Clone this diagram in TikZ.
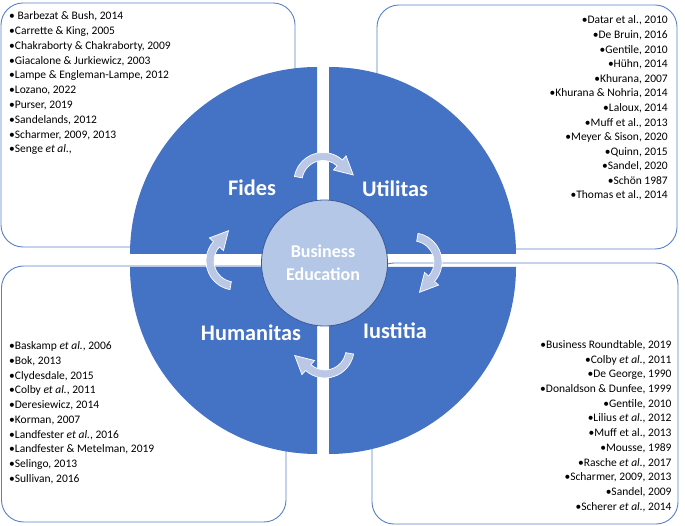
\documentclass[tikz,border=0pt]{standalone}
\usepackage{fontspec}
\setmainfont{Carlito}
\definecolor{qblue}{RGB}{68,114,196}
\definecolor{bline}{RGB}{88,128,200}
\definecolor{cfill}{RGB}{180,199,231}
\definecolor{cedge}{RGB}{60,90,150}
\definecolor{afill}{RGB}{186,200,230}
\begin{document}
\begin{tikzpicture}[x=1pt,y=1pt,
  refbox/.style={draw=bline, line width=0.9pt, fill=white, rounded corners=22pt},
  reftxt/.style={inner sep=0pt, font=\fontsize{11.5}{13}\selectfont, text=black},
  quad/.style={fill=qblue},
  lab/.style={text=white, font=\fontsize{22.3}{26}\selectfont\bfseries, inner sep=0pt, anchor=base},
  corelab/.style={text=white, font=\fontsize{18}{22}\selectfont\bfseries, inner sep=0pt, anchor=base},
  carrow/.pic={\path[fill=afill, draw=white, line width=0.7pt]
    (80:29) arc[start angle=80,end angle=-42,radius=29pt] -- (-42:34.5) -- (6.5,-30.3)
    -- (-42:15.5) -- (-42:21) arc[start angle=-42,end angle=80,radius=21pt] -- cycle;}
]
\useasboundingbox (0,0) rectangle (685,525);
% reference boxes
\draw[refbox] (1,278) rectangle (295,522);
\draw[refbox] (377,276) rectangle (677,520);
\draw[refbox] (1.5,3) rectangle (286,259);
\draw[refbox] (372,1) rectangle (678,262);
% texts
\foreach[count=\i from 0] \txt in {{• Barbezat \& Bush, 2014},{•Carrette \& King, 2005},{•Chakraborty \& Chakraborty, 2009},{•Giacalone \& Jurkiewicz, 2003},{•Lampe \& Engleman-Lampe, 2012},{•Lozano, 2022},{•Purser, 2019},{•Sandelands, 2012},{•Scharmer, 2009, 2013},{•Senge \textit{et al.},}}
  \node[reftxt, anchor=base west] (tl\i) at (9,{505.3-14.8*\i}) {\txt};
\foreach[count=\i from 0] \txt in {{•Datar et al., 2010},{•De Bruin, 2016},{•Gentile, 2010},{•Hühn, 2014},{•Khurana, 2007},{•Khurana \& Nohria, 2014},{•Laloux, 2014},{•Muff et al., 2013},{•Meyer \& Sison, 2020},{•Quinn, 2015},{•Sandel, 2020},{•Schön 1987},{•Thomas et al., 2014}}
  \node[reftxt, anchor=base east] (tr\i) at (668,{501-14.58*\i}) {\txt};
\foreach[count=\i from 0] \txt in {{•Baskamp \textit{et al.}, 2006},{•Bok, 2013},{•Clydesdale, 2015},{•Colby \textit{et al.}, 2011},{•Deresiewicz, 2014},{•Korman, 2007},{•Landfester \textit{et al.}, 2016},{•Landfester \& Metelman, 2019},{•Selingo, 2013},{•Sullivan, 2016}}
  \node[reftxt, anchor=base west] (bl\i) at (9,{175.3-14.73*\i}) {\txt};
\foreach[count=\i from 0] \txt in {{•Business Roundtable, 2019},{•Colby \textit{et al.}, 2011},{•De George, 1990},{•Donaldson \& Dunfee, 1999},{•Gentile, 2010},{•Lilius \textit{et al.}, 2012},{•Muff et al., 2013},{•Mousse, 1989},{•Rasche \textit{et al.}, 2017},{•Scharmer, 2009, 2013},{•Sandel, 2009},{•Scherer \textit{et al.}, 2014}}
  \node[reftxt, anchor=base east] (br\i) at (671.7,{176.7-14.73*\i}) {\txt};
% quadrants
\fill[quad] (317,271) -- (130,271) arc[start angle=180,end angle=90,radius=187pt] -- cycle;
\fill[quad] (329,271) -- (329,458) arc[start angle=90,end angle=0,radius=187pt] -- cycle;
\fill[quad] (317,258) -- (130,258) arc[start angle=180,end angle=270,radius=187pt] -- cycle;
\fill[quad] (329,258) -- (516,258) arc[start angle=0,end angle=-90,radius=187pt] -- cycle;
% cycle arrows
\pic[rotate=90] at (323,343.5) {carrow};
\pic at (413,263) {carrow};
\pic[rotate=-90] at (325,176) {carrow};
\pic[rotate=180] at (235,264) {carrow};
% core
\node[circle, fill=cfill, draw=cedge, line width=0.8pt, minimum size=126pt, inner sep=0pt] (core) at (324.5,262) {};
\node[corelab] (biz) at (323,267) {Business};
\node[corelab] (edu) at (323,244) {Education};
% labels
\node[lab] (fides) at (252,329.7) {Fides};
\node[lab] (util) at (395,328.7) {Utilitas};
\node[lab] (hum) at (251,184.7) {Humanitas};
\node[lab] (iust) at (395,186.3) {Iustitia};
\end{tikzpicture}
\end{document}
